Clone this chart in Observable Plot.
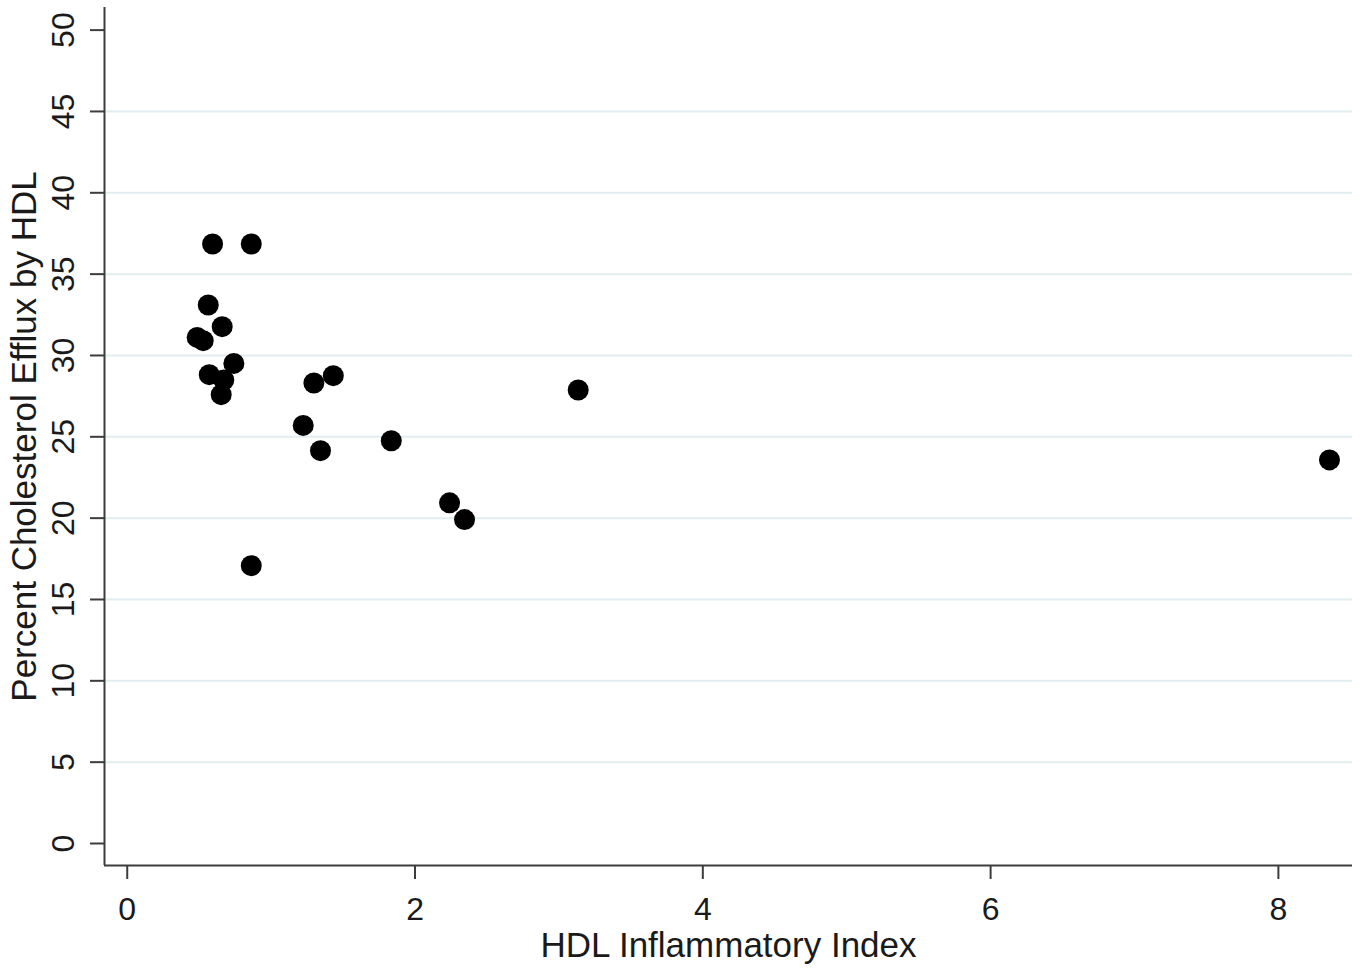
<!DOCTYPE html>
<html>
<head>
<meta charset="utf-8">
<script src="https://cdn.jsdelivr.net/npm/d3@7"></script>
<script src="https://cdn.jsdelivr.net/npm/@observablehq/plot@0.6"></script>
<style>
  html, body { margin: 0; padding: 0; background: #ffffff; }
  #chart svg { display: block; font-family: Arial, "Liberation Sans", sans-serif; }
</style>
</head>
<body>
<div id="chart"></div>
<script>
// HDL Inflammatory Index (x) vs Percent Cholesterol Efflux by HDL (y)
const hdlIndex = [0.593, 0.862, 0.563, 0.660, 0.486, 0.528, 0.741, 0.570, 0.671, 0.653,
                  1.297, 1.432, 1.223, 1.343, 1.835, 2.240, 2.344, 3.134, 0.862, 8.355];
const efflux   = [36.85, 36.85, 33.10, 31.77, 31.11, 30.91, 29.51, 28.82, 28.49, 27.59,
                  28.31, 28.76, 25.70, 24.15, 24.76, 20.94, 19.91, 27.88, 17.08, 23.58];

const xTicks = [0, 2, 4, 6, 8];
const yTicks = [0, 5, 10, 15, 20, 25, 30, 35, 40, 45, 50];
const yGrid = [5, 10, 15, 20, 25, 30, 35, 40, 45];
const xDomain = [-0.158, 8.515];
const yDomain = [-1.352, 51.39];
const xTitle = "HDL Inflammatory Index";
const yTitle = "Percent Cholesterol Efflux by HDL";

const points = hdlIndex.map((x, i) => ({x, y: efflux[i]}));

const axisColor = "#3c3c3c";
const textColor = "#1a1a1a";

const chart = Plot.plot({
  width: 1365,
  height: 971,
  marginLeft: 104,
  marginRight: 13,
  marginTop: 7,
  marginBottom: 106,
  style: { background: "#ffffff", color: textColor },
  x: { domain: xDomain, ticks: xTicks },
  y: { domain: yDomain, ticks: yTicks },
  marks: [
    Plot.gridY(yGrid, { stroke: "#e2edf0", strokeOpacity: 1, strokeWidth: 2 }),
    Plot.axisX(xTicks, {
      tickSize: 14, tickPadding: 18, fontSize: 32, stroke: axisColor, strokeWidth: 2,
      fill: textColor, label: null, tickFormat: d => String(d)
    }),
    Plot.axisY(yTicks, {
      tickSize: 14, text: null, stroke: axisColor, strokeWidth: 2, label: null
    }),
    Plot.text(yTicks, {
      y: d => d, frameAnchor: "left", rotate: -90, dx: -41,
      text: d => String(d), fontSize: 32, textAnchor: "middle", lineAnchor: "middle", fill: textColor
    }),
    Plot.ruleX([xDomain[0]], { stroke: axisColor, strokeWidth: 2 }),
    Plot.ruleY([yDomain[0]], { stroke: axisColor, strokeWidth: 2 }),
    Plot.dot(points, { x: "x", y: "y", r: 10.5, fill: "#000000", stroke: null }),
    Plot.text([xTitle], {
      frameAnchor: "bottom", dy: 80, text: d => d, fontSize: 35,
      textAnchor: "middle", lineAnchor: "middle", fill: textColor
    }),
    Plot.text([yTitle], {
      frameAnchor: "left", dx: -80, rotate: -90, text: d => d, fontSize: 35,
      textAnchor: "middle", lineAnchor: "middle", fill: textColor
    })
  ]
});

document.getElementById("chart").appendChild(chart);
</script>
</body>
</html>
